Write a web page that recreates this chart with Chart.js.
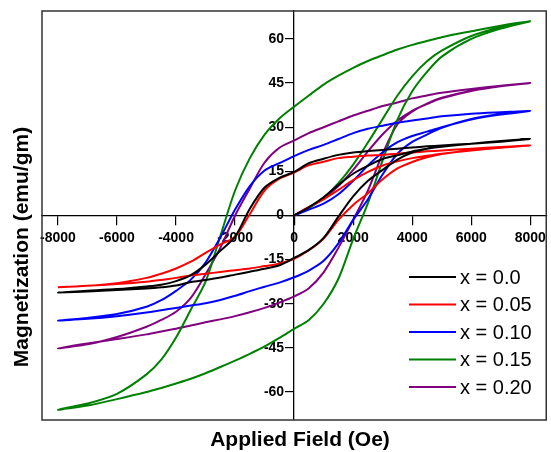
<!DOCTYPE html>
<html>
<head>
<meta charset="utf-8">
<script src="https://cdn.jsdelivr.net/npm/chart.js@4.4.1/dist/chart.umd.min.js"></script>
<style>
    html, body { margin: 0; padding: 0; background: #fff; }
    #wrap { width: 551px; height: 452px; position: relative; }
</style>
</head>
<body>
<div id="wrap"><canvas id="mhChart"></canvas></div>
<script>
// Campo aplicado (Oe) para cada rama del lazo
const fieldVirgin = [0, 500, 1000, 1500, 2000, 2500, 3000, 3500, 4000, 4500, 5000, 6000, 7000, 8000];
const fieldUp = [-8000, -7000, -6000, -5000, -4500, -4000, -3500, -3000, -2500, -2000, -1500, -1000, -500, 0,
    500, 1000, 1500, 2000, 2500, 3000, 3500, 4000, 4500, 5000, 6000, 7000, 8000];
const fieldDown = fieldUp.slice().reverse();

// Marcas de los ejes
const xTickValues = [-8000, -6000, -4000, -2000, 0, 2000, 4000, 6000, 8000];
const yTickValues = [-60, -45, -30, -15, 0, 15, 30, 45, 60];

const sampleLabels = ['x = 0.0', 'x = 0.05', 'x = 0.10', 'x = 0.15', 'x = 0.20'];
const sampleColors = ['#000000', '#ff0000', '#0000ff', '#008000', '#800080'];

// x = 0.0
const virgin00 = [0, 2.8, 6.2, 10.4, 14.2, 16.9, 19.2, 20.5, 21.8, 22.7, 23.4, 24.4, 25.3, 26];
const down00 = [26, 25.1, 24.4, 23.8, 23.5, 23.1, 22.7, 22.3, 21.9, 21.4, 20.6, 19.3, 17.8, 14.8, 12.8, 9.5, 2.3, -7.2, -12, -16.7, -20.3, -22.3, -23.5, -24.1, -25, -25.6, -26.2];
const up00 = [-26.2, -25.8, -25.3, -24.8, -24.4, -23.8, -22.6, -21.9, -21.1, -20.1, -19.1, -18.1, -16.9, -14.4, -11.7, -7.6, -0.4, 6.5, 11.8, 15.5, 19, 21.4, 22.7, 23.4, 24.4, 25.2, 26];

// x = 0.05
const virgin05 = [0, 2.9, 5.5, 8.7, 12, 14.8, 17, 18.4, 19.5, 20.3, 21, 22.1, 23, 23.8];
const down05 = [23.8, 23.3, 22.7, 22.1, 21.8, 21.4, 21, 20.6, 20.4, 20, 19.5, 18.3, 17.1, 14.6, 12.5, 8.5, 0.5, -7.2, -9.8, -12.7, -15.7, -18, -19.8, -21.2, -23, -23.9, -24.4];
const up05 = [-24.4, -23.9, -23.3, -22.5, -21.9, -21.2, -20.4, -19.8, -19.2, -18.6, -18, -17.2, -16.4, -14.7, -11.8, -7.8, -1.5, 3.6, 7.6, 12.3, 16, 18.2, 19.8, 20.9, 22.3, 23.2, 23.8];

// x = 0.10
const virgin10 = [0, 2, 4, 7.2, 11.8, 17, 21.5, 24.9, 27, 28.5, 30, 32.6, 34.3, 35.5];
const down10 = [35.5, 35.1, 34.6, 33.7, 33, 32.3, 31.5, 30.5, 29.5, 28, 26, 24, 22.3, 20.2, 17.8, 15.3, 10, 2, -7.5, -16, -21.8, -25.6, -28.8, -31, -33.5, -34.8, -35.7];
const up10 = [-35.7, -35.1, -34.2, -33, -32.2, -31.4, -30.6, -29.8, -28.7, -27.3, -25.7, -24.2, -22.8, -21, -18.7, -15.4, -9.5, -1.5, 5.5, 14, 21, 25, 27.5, 29.8, 32.8, 34.5, 35.5];

// x = 0.15
const virgin15 = [0, 2.5, 6, 11, 17.3, 24.8, 32.8, 40.8, 47.3, 52.4, 56, 61, 64, 66];
const down15 = [66, 64.5, 62.6, 60.6, 59.3, 58, 56.4, 54.5, 52.5, 50.2, 47.5, 44.5, 40.8, 37, 33, 27.5, 19.5, 8.5, -7, -22.5, -32, -41.5, -49, -54, -60.6, -63.9, -66];
const up15 = [-66, -64.6, -62.4, -60, -58.6, -57.1, -55.5, -53.6, -51.5, -49.3, -47, -44.5, -41.6, -38.5, -35.5, -30, -21.5, -8, 4.2, 18.8, 32.6, 42.2, 48.8, 54, 60, 63.5, 66];

// x = 0.20
const virgin20 = [0, 2.8, 5.8, 10, 15.5, 21.8, 27.6, 32.3, 35.6, 37.9, 39.8, 42.3, 43.9, 45];
const down20 = [45, 44.1, 43, 41.7, 40.8, 39.8, 38.4, 37.2, 35.6, 34, 32, 30, 28, 25.5, 23, 18, 9.2, 0, -11, -20, -28, -32.7, -35.5, -37.8, -41.3, -43.8, -45.1];
const up20 = [-45.1, -43.5, -42, -40.4, -39.4, -38.5, -37.4, -36.3, -35.3, -34.2, -32.9, -31.4, -29.6, -27.5, -24.7, -19.3, -11, -1.5, 8.5, 21, 31, 35.3, 38, 40, 42.4, 43.9, 45];

const loops = [
    [virgin00, down00, up00],
    [virgin05, down05, up05],
    [virgin10, down10, up10],
    [virgin15, down15, up15],
    [virgin20, down20, up20]
];

// Une curva virgen + rama descendente + rama ascendente
function armarLazo(virgin, down, up) {
    const pts = [];
    const agregar = (h, m) => {
        const last = pts[pts.length - 1];
        if (last && last.x === h && last.y === m) return;
        pts.push({ x: h, y: m });
    };
    fieldVirgin.forEach((h, i) => agregar(h, virgin[i]));
    fieldDown.forEach((h, i) => agregar(h, down[i]));
    fieldUp.forEach((h, i) => agregar(h, up[i]));
    return pts;
}

const fuente = '"Liberation Sans", Arial, sans-serif';

// Etiquetas del eje Y a la izquierda del eje central (debajo de las curvas)
const etiquetasYPlugin = {
    id: 'etiquetasY',
    beforeDatasetsDraw(chart) {
        const { ctx, scales } = chart;
        const x0 = scales.x.getPixelForValue(0);
        ctx.save();
        ctx.fillStyle = '#000';
        ctx.font = 'bold 14px ' + fuente;
        ctx.textAlign = 'right';
        ctx.textBaseline = 'middle';
        yTickValues.forEach(v => {
            ctx.fillText(String(v), x0 - 10, scales.y.getPixelForValue(v));
        });
        ctx.restore();
    }
};

// Marco, titulos de ejes y leyenda dentro del area
const extrasPlugin = {
    id: 'extras',
    afterDraw(chart) {
        const { ctx, chartArea: a } = chart;
        ctx.save();
        ctx.strokeStyle = '#333';
        ctx.lineWidth = 1.5;
        ctx.strokeRect(a.left, a.top, a.right - a.left, a.bottom - a.top);

        ctx.fillStyle = '#000';
        ctx.font = 'bold 21px ' + fuente;
        ctx.textAlign = 'center';
        ctx.textBaseline = 'middle';
        ctx.fillText('Applied Field (Oe)', 300, 440);
        ctx.save();
        ctx.translate(22, 247);
        ctx.rotate(-Math.PI / 2);
        ctx.fillText('Magnetization (emu/gm)', 0, 0);
        ctx.restore();

        // leyenda
        ctx.font = '20px ' + fuente;
        ctx.textAlign = 'left';
        chart.data.datasets.forEach((ds, i) => {
            const y = 277 + i * 27.5;
            ctx.strokeStyle = ds.borderColor;
            ctx.lineWidth = 2;
            ctx.beginPath();
            ctx.moveTo(409, y);
            ctx.lineTo(456, y);
            ctx.stroke();
            ctx.fillStyle = '#000';
            ctx.fillText(ds.label, 460, y + 1);
        });
        ctx.restore();
    }
};

const ctxMH = document.getElementById('mhChart').getContext('2d');
const mhChart = new Chart(ctxMH, {
    type: 'scatter',
    data: {
        datasets: loops.map((l, i) => ({
            label: sampleLabels[i],
            data: armarLazo(l[0], l[1], l[2]),
            borderColor: sampleColors[i],
            backgroundColor: sampleColors[i],
            showLine: true,
            borderWidth: 2,
            pointRadius: 0,
            tension: 0.3,
            fill: false
        }))
    },
    options: {
        responsive: true,
        maintainAspectRatio: false,
        animation: false,
        layout: {
            padding: { left: 42, top: 11, right: 4, bottom: 32 }
        },
        plugins: {
            legend: { display: false },
            tooltip: { enabled: false }
        },
        scales: {
            x: {
                type: 'linear',
                min: -8540,
                max: 8540,
                position: { y: 0 },
                afterBuildTicks: (scale) => {
                    scale.ticks = xTickValues.map(v => ({ value: v }));
                },
                grid: { drawOnChartArea: false, tickLength: 9, color: '#000', lineWidth: 1.2 },
                border: { color: '#000', width: 1.3 },
                ticks: {
                    autoSkip: false,
                    maxRotation: 0,
                    padding: 5,
                    color: '#000',
                    font: { family: fuente, size: 14, weight: 'bold' },
                    callback: (v) => String(v)
                }
            },
            y: {
                type: 'linear',
                min: -69.5,
                max: 69.5,
                position: { x: 0 },
                afterBuildTicks: (scale) => {
                    scale.ticks = yTickValues.map(v => ({ value: v }));
                },
                grid: { drawOnChartArea: false, tickLength: 8, color: '#000', lineWidth: 1.2 },
                border: { color: '#000', width: 1.3 },
                ticks: { display: false }
            }
        }
    },
    plugins: [etiquetasYPlugin, extrasPlugin]
});
</script>
</body>
</html>
